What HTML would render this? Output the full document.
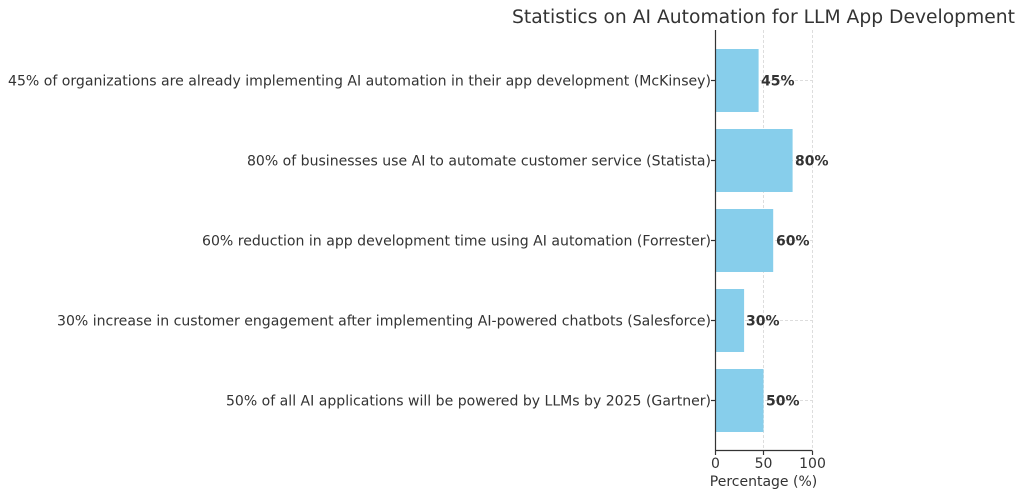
<!DOCTYPE html>
<html><head><meta charset="utf-8"><style>html,body{margin:0;padding:0;background:#fff}svg{display:block}</style></head>
<body>
<svg width="1024" height="497" xmlns="http://www.w3.org/2000/svg" font-family="DejaVu Sans, Liberation Sans, sans-serif">
<rect width="1024" height="497" fill="#fff"/>
<text x="763.5" y="23" font-size="18.5" fill="#333" text-anchor="middle" textLength="503" lengthAdjust="spacingAndGlyphs">Statistics on AI Automation for LLM App Development</text>
<g stroke="#ddd" stroke-width="1" stroke-dasharray="3,2">
<line x1="763.5" y1="30" x2="763.5" y2="451"/>
<line x1="812.5" y1="30" x2="812.5" y2="451"/>
<line x1="715" y1="80.5" x2="812" y2="80.5"/>
<line x1="715" y1="160.5" x2="812" y2="160.5"/>
<line x1="715" y1="240.5" x2="812" y2="240.5"/>
<line x1="715" y1="320.5" x2="812" y2="320.5"/>
<line x1="715" y1="400.5" x2="812" y2="400.5"/>
</g>
<g fill="#87ceeb">
<rect x="715" y="49" width="43.6" height="63"/>
<rect x="715" y="129" width="77.6" height="63"/>
<rect x="715" y="209" width="58.2" height="63"/>
<rect x="715" y="289" width="29.1" height="63"/>
<rect x="715" y="369" width="48.5" height="63"/>
</g>
<g stroke="#333" stroke-width="1.2">
<line x1="715.5" y1="30" x2="715.5" y2="451"/>
<line x1="715" y1="450.5" x2="812.5" y2="450.5"/>
<line x1="715.5" y1="451" x2="715.5" y2="455"/>
<line x1="763.5" y1="451" x2="763.5" y2="455"/>
<line x1="812.5" y1="451" x2="812.5" y2="455"/>
<line x1="711" y1="80.5" x2="715" y2="80.5"/>
<line x1="711" y1="160.5" x2="715" y2="160.5"/>
<line x1="711" y1="240.5" x2="715" y2="240.5"/>
<line x1="711" y1="320.5" x2="715" y2="320.5"/>
<line x1="711" y1="400.5" x2="715" y2="400.5"/>
</g>
<g font-size="14" fill="#333" text-anchor="end">
<text x="711" y="85.5" textLength="703" lengthAdjust="spacingAndGlyphs">45% of organizations are already implementing AI automation in their app development (McKinsey)</text>
<text x="711" y="165.5" textLength="464" lengthAdjust="spacingAndGlyphs">80% of businesses use AI to automate customer service (Statista)</text>
<text x="711" y="245.5" textLength="509" lengthAdjust="spacingAndGlyphs">60% reduction in app development time using AI automation (Forrester)</text>
<text x="711" y="325.5" textLength="654" lengthAdjust="spacingAndGlyphs">30% increase in customer engagement after implementing AI-powered chatbots (Salesforce)</text>
<text x="711" y="405.5" textLength="485" lengthAdjust="spacingAndGlyphs">50% of all AI applications will be powered by LLMs by 2025 (Gartner)</text>
</g>
<g font-size="14" font-weight="bold" fill="#333">
<text x="761" y="85.5">45%</text>
<text x="795" y="165.5">80%</text>
<text x="776" y="245.5">60%</text>
<text x="746" y="325.5">30%</text>
<text x="766" y="405.5">50%</text>
</g>
<g font-size="14" fill="#333" text-anchor="middle">
<text x="715.5" y="468">0</text>
<text x="763.5" y="468">50</text>
<text x="812.5" y="468">100</text>
<text x="763.5" y="486">Percentage (%)</text>
</g>
</svg>
</body></html>
